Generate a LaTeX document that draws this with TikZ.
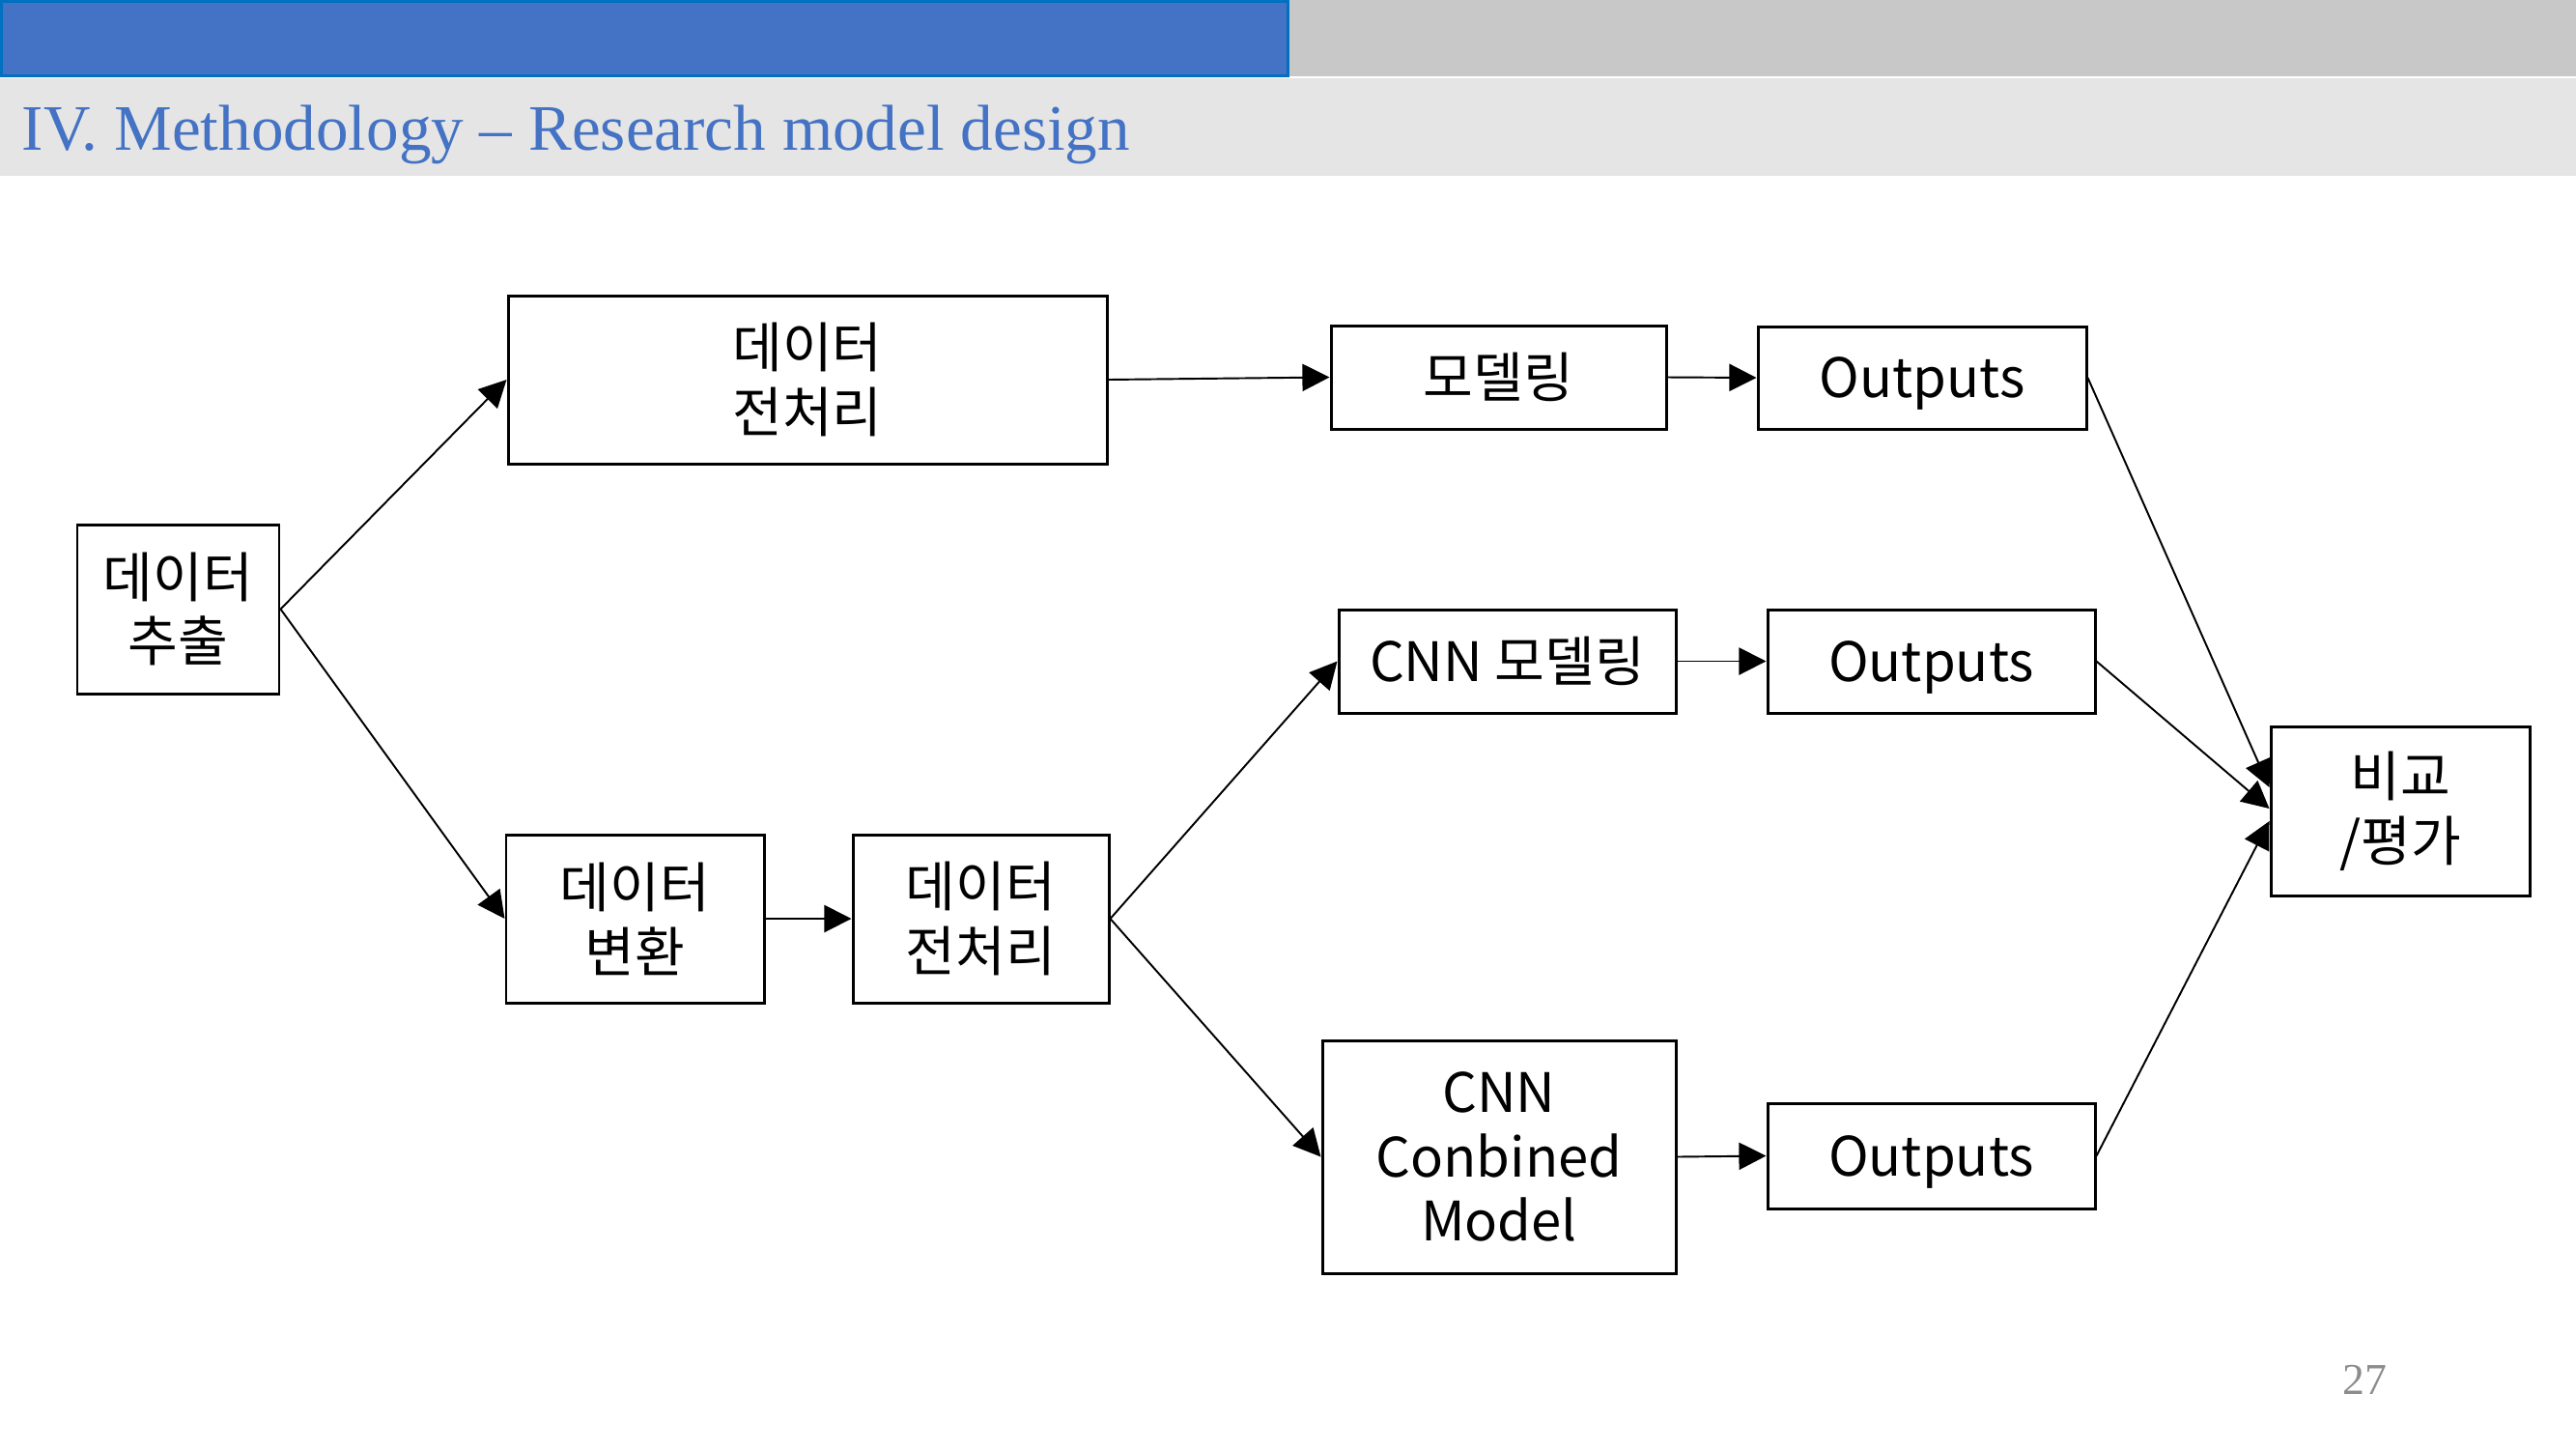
\documentclass[tikz,border=0pt]{standalone}
\usepackage{fontspec}
\setmainfont{Noto Sans CJK KR}
\newfontfamily\titlefont{Liberation Serif}
\usetikzlibrary{shapes,arrows.meta}

\definecolor{barblue}{HTML}{4472C4}
\definecolor{barline}{HTML}{0070C0}
\definecolor{bargray}{HTML}{C8C8C8}
\definecolor{bandgray}{HTML}{E5E5E5}
\definecolor{numgray}{HTML}{8C8C8C}

\tikzset{
  box/.style={draw, line width=0.85pt, inner sep=0pt, align=center, font=\fontsize{16}{19}\selectfont},
  outbox/.style={box, text depth=0pt},
  arr/.style={line width=0.55pt, -{Triangle[length=8pt, width=8pt]}}
}

\begin{document}
\begin{tikzpicture}

    \useasboundingbox (0, 0) rectangle (26.67, -15);

    % header bars
    \fill[bargray] (0, 0) rectangle (26.67, -0.79);
    \fill[bandgray] (0, -0.81) rectangle (26.67, -1.82);
    \draw[barline, fill=barblue, line width=0.03cm] (0.015, -0.015) rectangle (13.335, -0.785);
    \node[anchor=base west, inner sep=0pt, text=barblue, font=\titlefont\fontsize{19.1}{23}\selectfont] (title) at (0.22, -1.55) {IV. Methodology – Research model design};
    \node[inner sep=0pt, text=numgray, font=\titlefont\fontsize{13}{15}\selectfont] (page) at (24.48, -14.28) {27};

    \node[box, minimum width=2.09cm, minimum height=1.75cm] (extract) at (1.845, -6.305) {데이터\\추출};

    \node[box, minimum width=6.2cm, minimum height=1.74cm] (prep) at (8.36, -3.93) {데이터\\전처리};
    \node[box, minimum width=3.47cm, minimum height=1.07cm] (model) at (15.515, -3.905) {모델링};
    \node[outbox, minimum width=3.4cm, minimum height=1.06cm] (out1) at (19.9, -3.91) {Outputs};

    \node[box, minimum width=2.67cm, minimum height=1.74cm] (trans) at (6.575, -9.51) {데이터\\변환};
    \node[box, minimum width=2.65cm, minimum height=1.74cm] (cnnprep) at (10.155, -9.51) {데이터\\전처리};
    \node[box, minimum width=3.49cm, minimum height=1.07cm] (cnn) at (15.605, -6.845) {CNN 모델링};
    \node[outbox, minimum width=3.39cm, minimum height=1.07cm] (out2) at (19.995, -6.845) {Outputs};
    \node[box, minimum width=3.66cm, minimum height=2.41cm] (combined) at (15.52, -11.975) {CNN\\Conbined\\Model};
    \node[outbox, minimum width=3.39cm, minimum height=1.09cm] (out3) at (19.995, -11.965) {Outputs};

    \node[box, minimum width=2.68cm, minimum height=1.75cm] (eval) at (24.85, -8.395) {비교\\/평가};

    \draw[arr] (extract.east) -- (prep.west);
    \draw[arr] (extract.east) -- (trans.west);
    \draw[arr] (prep.east) -- (model.west);
    \draw[arr] (model.east) -- (out1.west);
    \draw[arr] (trans.east) -- (cnnprep.west);
    \draw[arr] (cnnprep.east) -- (cnn.west);
    \draw[arr] (cnnprep.east) -- (combined.west);
    \draw[arr] (cnn.east) -- (out2.west);
    \draw[arr] (combined.east) -- (out3.west);

    \draw[arr] (out1.east) -- ([yshift=0.245cm] eval.west);
    \draw[arr] (out2.east) -- ([yshift=0.025cm] eval.west);
    \draw[arr] (out3.east) -- ([yshift=-0.105cm] eval.west);

\end{tikzpicture}
\end{document}
